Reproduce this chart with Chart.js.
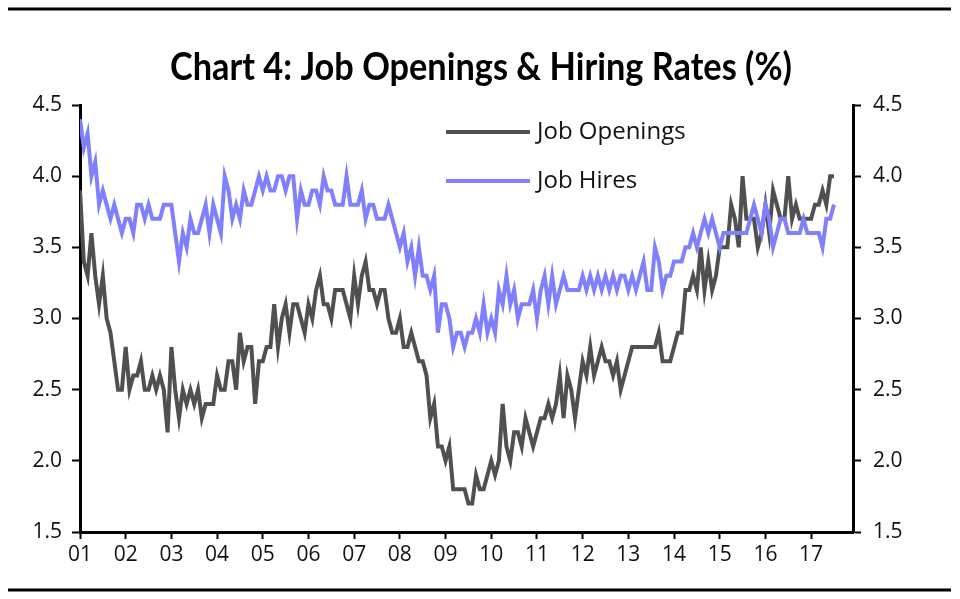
<!DOCTYPE html>
<html>
<head>
<meta charset="utf-8">
<script src="https://cdn.jsdelivr.net/npm/chart.js@4.4.0/dist/chart.umd.min.js"></script>
<style>
html, body { margin: 0; padding: 0; background: #fff; }
#wrap { width: 960px; height: 599px; }
</style>
</head>
<body>
<div id="wrap"><canvas id="lineChart" width="960" height="599"></canvas></div>
<script>
// monthly, Jan 2001 .. Jul 2017
var years = ['01','02','03','04','05','06','07','08','09','10','11','12','13','14','15','16','17'];

var openings = [
    3.9, 3.4, 3.3, 3.6, 3.3, 3.1, 3.3, 3.0, 2.9, 2.7, 2.5, 2.5,
    2.8, 2.5, 2.6, 2.6, 2.7, 2.5, 2.5, 2.6, 2.5, 2.6, 2.5, 2.2,
    2.8, 2.5, 2.3, 2.5, 2.4, 2.5, 2.4, 2.5, 2.3, 2.4, 2.4, 2.4,
    2.6, 2.5, 2.5, 2.7, 2.7, 2.5, 2.9, 2.7, 2.8, 2.8, 2.4, 2.7,
    2.7, 2.8, 2.8, 3.1, 2.8, 3.0, 3.1, 2.9, 3.1, 3.1, 3.0, 2.9,
    3.1, 3.0, 3.2, 3.3, 3.1, 3.1, 3.0, 3.2, 3.2, 3.2, 3.1, 3.0,
    3.3, 3.1, 3.3, 3.4, 3.2, 3.2, 3.1, 3.2, 3.2, 3.0, 2.9, 2.9,
    3.0, 2.8, 2.8, 2.9, 2.8, 2.7, 2.7, 2.6, 2.3, 2.4, 2.1, 2.1,
    2.0, 2.1, 1.8, 1.8, 1.8, 1.8, 1.7, 1.7, 1.9, 1.8, 1.8, 1.9,
    2.0, 1.9, 2.0, 2.4, 2.1, 2.0, 2.2, 2.2, 2.1, 2.3, 2.2, 2.1,
    2.2, 2.3, 2.3, 2.4, 2.3, 2.4, 2.6, 2.3, 2.6, 2.5, 2.3, 2.5,
    2.7, 2.6, 2.8, 2.6, 2.7, 2.8, 2.7, 2.7, 2.6, 2.7, 2.5, 2.6,
    2.7, 2.8, 2.8, 2.8, 2.8, 2.8, 2.8, 2.8, 2.9, 2.7, 2.7, 2.7,
    2.8, 2.9, 2.9, 3.2, 3.2, 3.3, 3.2, 3.5, 3.2, 3.4, 3.2, 3.3,
    3.5, 3.5, 3.5, 3.8, 3.7, 3.5, 4.0, 3.7, 3.7, 3.7, 3.5, 3.6,
    3.8, 3.6, 3.9, 3.8, 3.7, 3.7, 4.0, 3.7, 3.8, 3.7, 3.7, 3.7,
    3.7, 3.8, 3.8, 3.9, 3.8, 4.0, 4.0
];

var hires = [
    4.4, 4.2, 4.3, 4.0, 4.1, 3.8, 3.9, 3.8, 3.7, 3.8, 3.7, 3.6,
    3.7, 3.7, 3.6, 3.8, 3.8, 3.7, 3.8, 3.7, 3.7, 3.7, 3.8, 3.8,
    3.8, 3.6, 3.4, 3.6, 3.5, 3.7, 3.6, 3.6, 3.7, 3.8, 3.6, 3.8,
    3.7, 3.6, 4.0, 3.9, 3.7, 3.8, 3.7, 3.9, 3.8, 3.8, 3.9, 4.0,
    3.9, 4.0, 3.9, 3.9, 4.0, 4.0, 3.9, 4.0, 4.0, 3.7, 3.9, 3.8,
    3.8, 3.9, 3.9, 3.8, 4.0, 3.9, 3.9, 3.8, 3.8, 3.8, 4.0, 3.8,
    3.8, 3.8, 3.9, 3.7, 3.8, 3.8, 3.7, 3.7, 3.7, 3.8, 3.7, 3.6,
    3.5, 3.6, 3.4, 3.5, 3.3, 3.5, 3.3, 3.3, 3.2, 3.3, 2.9, 3.1,
    3.1, 3.0, 2.8, 2.9, 2.9, 2.8, 2.9, 2.9, 3.0, 2.9, 3.1, 2.9,
    3.0, 2.9, 3.2, 3.1, 3.3, 3.1, 3.2, 3.0, 3.1, 3.1, 3.1, 3.2,
    3.0, 3.2, 3.3, 3.1, 3.3, 3.1, 3.2, 3.3, 3.2, 3.2, 3.2, 3.2,
    3.3, 3.2, 3.3, 3.2, 3.3, 3.2, 3.3, 3.2, 3.3, 3.2, 3.3, 3.3,
    3.2, 3.3, 3.2, 3.3, 3.4, 3.2, 3.2, 3.5, 3.4, 3.2, 3.3, 3.3,
    3.4, 3.4, 3.4, 3.5, 3.5, 3.6, 3.5, 3.6, 3.7, 3.6, 3.7, 3.6,
    3.5, 3.6, 3.6, 3.6, 3.6, 3.6, 3.6, 3.6, 3.7, 3.8, 3.7, 3.6,
    3.8, 3.7, 3.5, 3.6, 3.7, 3.7, 3.6, 3.6, 3.6, 3.6, 3.7, 3.6,
    3.6, 3.6, 3.6, 3.5, 3.7, 3.7, 3.8
];

var seriesNames = ['Job Openings', 'Job Hires'];
var seriesColors = ['#505050', '#8080ff'];
var titleText = 'Chart 4: Job Openings & Hiring Rates (%)';

function toPoints(arr) {
    return arr.map(function(v, i) { return {x: i, y: v}; });
}

var tickFont = {family: "'Open Sans', sans-serif", size: 21};

// title, rules and legend drawn by hand
var decor = {
    id: 'decor',
    afterDraw: function(chart) {
        var ctx = chart.ctx;
        ctx.save();
        ctx.strokeStyle = '#000';
        ctx.lineWidth = 3;
        ctx.beginPath();
        ctx.moveTo(8, 9); ctx.lineTo(951, 9);
        ctx.moveTo(8, 590); ctx.lineTo(951, 590);
        ctx.stroke();

        // title, squeezed to the original width
        ctx.fillStyle = '#000';
        ctx.font = "bold 38px Lato, 'Open Sans', sans-serif";
        ctx.textBaseline = 'alphabetic';
        ctx.textAlign = 'left';
        var w = ctx.measureText(titleText).width;
        ctx.save();
        ctx.translate(170, 80);
        ctx.scale(622 / w, 1);
        ctx.fillText(titleText, 0, 0);
        ctx.restore();

        // legend
        ctx.font = "24px 'Open Sans', sans-serif";
        ctx.textBaseline = 'middle';
        ctx.lineWidth = 4;
        seriesNames.forEach(function(name, i) {
            var y = 132 + i * 49;
            ctx.strokeStyle = seriesColors[i];
            ctx.beginPath();
            ctx.moveTo(446, y); ctx.lineTo(530, y);
            ctx.stroke();
            ctx.fillStyle = '#111';
            ctx.fillText(name, 537, y);
        });
        ctx.restore();
    }
};

var ctx = document.getElementById('lineChart').getContext('2d');
var myLineChart = new Chart(ctx, {
    type: 'line',
    data: {
        datasets: [{
            label: seriesNames[0],
            data: toPoints(openings),
            borderColor: seriesColors[0],
            borderWidth: 4,
            pointRadius: 0,
            tension: 0,
            fill: false,
            order: 1
        }, {
            label: seriesNames[1],
            data: toPoints(hires),
            borderColor: seriesColors[1],
            borderWidth: 4,
            pointRadius: 0,
            tension: 0,
            fill: false,
            order: 0
        }]
    },
    options: {
        responsive: false,
        animation: false,
        devicePixelRatio: 1,
        layout: {
            padding: {top: 105, right: 0, bottom: 0, left: 0}
        },
        plugins: {
            legend: {display: false},
            title: {display: false},
            tooltip: {enabled: false}
        },
        scales: {
            x: {
                type: 'linear',
                min: 0,
                max: 203,
                afterBuildTicks: function(scale) {
                    scale.ticks = years.map(function(y, i) { return {value: i * 12}; });
                },
                afterFit: function(scale) { scale.height = 67; },
                ticks: {
                    callback: function(v, i) { return years[i]; },
                    font: tickFont,
                    color: '#111',
                    padding: 3,
                    maxRotation: 0,
                    autoSkip: false
                },
                grid: {drawOnChartArea: false, tickLength: 7, tickWidth: 2, tickColor: '#000'},
                border: {width: 3, color: '#000'}
            },
            y: {
                position: 'left',
                min: 1.5,
                max: 4.5,
                afterFit: function(scale) { scale.width = 80; },
                ticks: {
                    stepSize: 0.5,
                    callback: function(v) { return v.toFixed(1); },
                    font: tickFont,
                    color: '#111',
                    padding: 10
                },
                grid: {drawOnChartArea: false, tickLength: 8, tickWidth: 2, tickColor: '#000'},
                border: {width: 3, color: '#000'}
            },
            y2: {
                position: 'right',
                min: 1.5,
                max: 4.5,
                afterFit: function(scale) { scale.width = 107; },
                ticks: {
                    stepSize: 0.5,
                    callback: function(v) { return v.toFixed(1); },
                    font: tickFont,
                    color: '#111',
                    padding: 12
                },
                grid: {drawOnChartArea: false, tickLength: 8, tickWidth: 2, tickColor: '#000'},
                border: {width: 3, color: '#000'}
            }
        }
    },
    plugins: [decor]
});
</script>
</body>
</html>
